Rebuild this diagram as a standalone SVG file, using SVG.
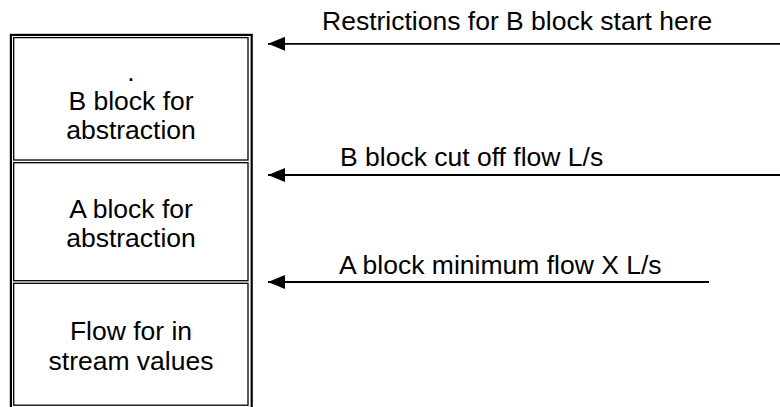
<svg xmlns="http://www.w3.org/2000/svg" width="780" height="407" viewBox="0 0 780 407">
  <defs>
    <style>
      .frame { fill: none; stroke: #000; stroke-width: 2.2; }
      .cell { fill: #fff; stroke: #000; stroke-width: 1.3; }
      .t { font-family: "Liberation Sans", Arial, sans-serif; font-size: 26.5px; fill: #000; }
      .c { text-anchor: middle; }
      .conn { stroke: #000; stroke-width: 1.8; fill: none; marker-end: url(#ah); }
    </style>
    <marker id="ah" markerUnits="userSpaceOnUse" markerWidth="18" markerHeight="14" refX="17" refY="7" orient="auto">
      <path d="M0,0 L17,7 L0,14 Z" fill="#000"/>
    </marker>
  </defs>
  <rect width="780" height="407" fill="#fff"/>
  <rect class="frame" x="10.9" y="34.9" width="240.8" height="380"/>
  <g id="nodeB">
    <rect class="cell" x="13.7" y="37.6" width="234.3" height="122.4"/>
    <text class="t c" x="131" y="81">.</text>
    <text class="t c" x="131" y="110">B block for</text>
    <text class="t c" x="131" y="139">abstraction</text>
  </g>
  <g id="nodeA">
    <rect class="cell" x="13.7" y="162.7" width="234.3" height="118"/>
    <text class="t c" x="131" y="218">A block for</text>
    <text class="t c" x="131" y="247">abstraction</text>
  </g>
  <g id="nodeFlow">
    <rect class="cell" x="13.7" y="283.3" width="234.3" height="121.9"/>
    <text class="t c" x="131" y="340">Flow for in</text>
    <text class="t c" x="131" y="370">stream values</text>
  </g>
  <g id="connectors">
    <line class="conn" x1="780" y1="43.8" x2="268" y2="43.8"/>
    <line class="conn" x1="780" y1="175" x2="268" y2="175"/>
    <line class="conn" x1="709" y1="282" x2="268" y2="282"/>
  </g>
  <g id="labels">
    <text class="t" x="322" y="29.5">Restrictions for B block start here</text>
    <text class="t" x="340" y="166">B block cut off flow L/s</text>
    <text class="t" x="339" y="273.5">A block minimum flow X L/s</text>
  </g>
</svg>
